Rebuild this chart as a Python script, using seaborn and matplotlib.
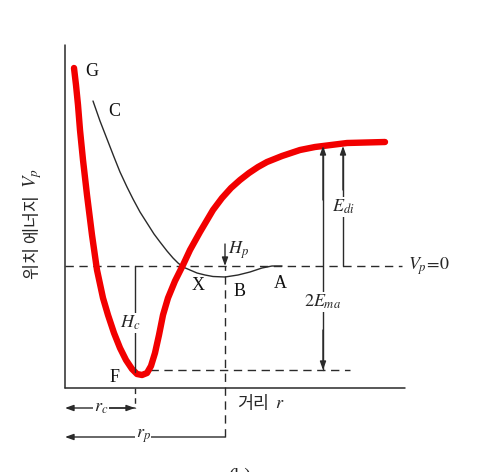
import matplotlib
matplotlib.use("Agg")
import matplotlib.pyplot as plt
import seaborn as sns
import numpy as np
import pandas as pd

# Curve points (pixel space of the 483x472 image)
red_x = [74, 76, 78, 80, 83, 87, 92, 97, 103, 108, 114, 120, 126, 132, 137, 142, 147, 151, 155, 159, 163, 168, 175, 183, 190, 200, 213, 222, 231, 240, 249, 258, 267, 282, 300, 315, 347, 385]
red_y = [68, 85, 105, 130, 160, 195, 235, 270, 298, 315, 333, 348, 360, 369, 374, 375, 373, 366, 353, 335, 315, 298, 281, 265, 250, 232, 210, 198, 188, 180, 173, 167, 162, 156, 150, 147, 143, 142]

c_x = [93, 100, 107, 114, 120, 127, 133, 140, 147, 154, 160, 167, 173, 178, 183, 190, 197, 205, 213, 225, 238, 250, 262, 272, 282]
c_y = [101, 121, 139, 157, 172, 187, 199, 212, 223, 234, 242, 251, 258, 263, 267, 270, 273, 275, 276.5, 277, 275, 272, 268, 266, 266]

labels = ["G", "C", "X", "B", "A", "F"]
label_x = [92, 114, 198, 240, 280, 115]
label_y = [72, 112, 285, 291, 283, 378]

sns.set_style("white")
plt.rcParams["font.family"] = ["Liberation Serif", "Noto Sans CJK KR"]
plt.rcParams["mathtext.fontset"] = "stix"

fig = plt.figure(figsize=(4.83, 4.72), dpi=100)
ax = fig.add_axes([0, 0, 1, 1])
ax.set_xlim(0, 483)
ax.set_ylim(472, 0)
ax.axis("off")

ink = "#2a2a2a"

# axes of the diagram
ax.plot([65, 65], [45, 388], color=ink, lw=1.1)
ax.plot([65, 405], [388, 388], color=ink, lw=1.1)

# V=0 dashed line and F-level dashed line
ax.plot([65, 402], [266, 266], color=ink, lw=1.0, ls=(0, (6, 4)))
ax.plot([150, 350], [370, 370], color=ink, lw=1.0, ls=(0, (6, 4)))

# thin black curves
sns.lineplot(x=c_x, y=c_y, sort=False, estimator=None, color=ink, lw=1.0, ax=ax)
sns.lineplot(x=[x + 1 for x in red_x], y=[y + 1 for y in red_y], sort=False, estimator=None, color=ink, lw=0.8, ax=ax)
# red curve
sns.lineplot(x=red_x, y=red_y, sort=False, estimator=None, color="#f20000", lw=4.6, ax=ax,
             solid_capstyle="round", solid_joinstyle="round")

arr = dict(arrowstyle="-|>,head_length=0.5,head_width=0.18", color=ink, lw=1.0, shrinkA=0, shrinkB=0)

# H_c vertical line
ax.plot([135, 135], [266, 372], color=ink, lw=1.0)
ax.plot([135, 135], [388, 408], color=ink, lw=1.0, ls=(0, (4, 3)))
# r_c and r_p arrows
ax.annotate("", xy=(65, 408), xytext=(135, 408), arrowprops=arr)
ax.annotate("", xy=(135, 408), xytext=(100, 408), arrowprops=arr)
ax.annotate("", xy=(65, 437), xytext=(225, 437), arrowprops=arr)
ax.plot([225, 225], [437, 266], color=ink, lw=1.0, ls=(0, (6, 4)))
# H_p arrow
ax.annotate("", xy=(225, 266), xytext=(225, 244), arrowprops=arr)
# 2E_ma
ax.plot([323, 323], [148, 370], color=ink, lw=1.0)
ax.annotate("", xy=(323, 146), xytext=(323, 200), arrowprops=arr)
ax.annotate("", xy=(323, 370), xytext=(323, 330), arrowprops=arr)
# E_di
ax.plot([343, 343], [150, 266], color=ink, lw=1.0)
ax.annotate("", xy=(343, 146), xytext=(343, 190), arrowprops=arr)

fs = 13
for t, x, y in zip(labels, label_x, label_y):
    ax.text(x, y, t, fontsize=fs, ha="center", va="center", color="#111")

wb = dict(facecolor="white", edgecolor="none", pad=0.5)
ax.text(130, 323, r"$H_c$", fontsize=fs, ha="center", va="center", bbox=wb)
ax.text(228, 250, r"$H_p$", fontsize=fs, ha="left", va="center")
ax.text(343, 207, r"$E_{di}$", fontsize=fs, ha="center", va="center", bbox=wb)
ax.text(323, 302, r"$2E_{ma}$", fontsize=fs, ha="center", va="center", bbox=wb)
ax.text(408, 266, r"$V_p\!=\!0$", fontsize=fs, ha="left", va="center")
ax.text(101, 408, r"$r_c$", fontsize=fs, ha="center", va="center", bbox=wb)
ax.text(143, 436, r"$r_p$", fontsize=fs, ha="center", va="center", bbox=wb)

kfont = ["Noto Sans CJK KR", "DejaVu Sans"]
ax.text(237, 404, "거리", fontsize=12.5, ha="left", va="center", family=kfont)
ax.text(275, 404, r"$r$", fontsize=13, ha="left", va="center")
ax.text(33, 237, "위치 에너지", fontsize=12.5, ha="center", va="center", rotation=90, family=kfont)
ax.text(33, 178, r"$V_p$", fontsize=13.5, ha="center", va="center", rotation=90)
ax.text(240, 476, "(b)", fontsize=14, ha="center", va="center")

fig.savefig("out.png", dpi=100)
